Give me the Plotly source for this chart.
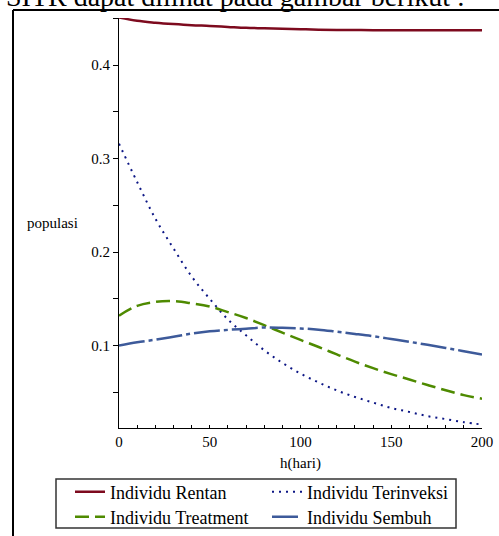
import plotly.graph_objects as go

hari = [0, 10, 20, 30, 40, 50, 60, 70, 80, 90, 100, 110, 120, 130, 140, 150, 160, 170, 180, 190, 200]
rentan = [0.451, 0.4475, 0.4455, 0.444, 0.4428, 0.442, 0.441, 0.4400, 0.4395, 0.439, 0.4385,
          0.438, 0.4377, 0.4376, 0.4375, 0.4375, 0.4374, 0.4374, 0.4374, 0.4374, 0.4374]
terinveksi = [0.316, 0.275, 0.236, 0.204, 0.174, 0.150, 0.128, 0.111, 0.095, 0.0815, 0.070,
              0.0605, 0.052, 0.045, 0.039, 0.0332, 0.029, 0.0245, 0.0213, 0.018, 0.0155]
treatment = [0.132, 0.1425, 0.1467, 0.1475, 0.1452, 0.1418, 0.1358, 0.1295, 0.1218, 0.1138, 0.106,
             0.0985, 0.0905, 0.0828, 0.0758, 0.0695, 0.0637, 0.0578, 0.0522, 0.047, 0.0431]
sembuh = [0.100, 0.1035, 0.1063, 0.1095, 0.1128, 0.1152, 0.1168, 0.118, 0.1193, 0.119, 0.1183,
          0.117, 0.1148, 0.1125, 0.110, 0.107, 0.104, 0.1008, 0.0975, 0.094, 0.0904]

names = ["Individu Rentan", "Individu Terinveksi", "Individu Treatment", "Individu Sembuh"]
x_tick_vals = [0, 50, 100, 150, 200]
y_tick_vals = [0.1, 0.2, 0.3, 0.4]

serif = "Liberation Serif"
W, H = 499, 536
L, R, T, B = 119, 17, 18, 108
pw, ph = W - L - R, H - T - B


def px(xp):
    return (xp - L) / pw


def py(yp):
    return (H - B - yp) / ph


fig = go.Figure()
fig.add_trace(go.Scatter(x=hari, y=rentan, name=names[0], mode="lines", line_shape="spline",
                         legend="legend", line=dict(color="#7d0a1e", width=2.5)))
fig.add_trace(go.Scatter(x=hari, y=terinveksi, name=names[1], mode="lines", line_shape="spline",
                         legend="legend", line=dict(color="#0c1685", width=2, dash="2px,5px")))
fig.add_trace(go.Scatter(x=hari, y=treatment, name=names[2], mode="lines", line_shape="spline",
                         legend="legend2", line=dict(color="#4e8a00", width=2.5, dash="14px,6px")))
fig.add_trace(go.Scatter(x=hari, y=sembuh, name=names[3], mode="lines", line_shape="spline",
                         legend="legend2", line=dict(color="#3d5a9a", width=2.5, dash="26px,4px,4px,4px")))

leg_common = dict(orientation="h", xanchor="left", yanchor="middle",
                  bgcolor="rgba(0,0,0,0)", borderwidth=0, entrywidth=152, entrywidthmode="pixels",
                  font=dict(family=serif, size=18, color="black"), itemwidth=30)

fig.update_layout(
    width=W, height=H,
    margin=dict(l=L, r=R, t=T, b=B, autoexpand=False),
    paper_bgcolor="white", plot_bgcolor="white",
    font=dict(family=serif, size=15, color="black"),
    showlegend=True,
    legend=dict(x=px(70), y=py(492), **leg_common),
    legend2=dict(x=px(70), y=py(517), **leg_common),
    xaxis=dict(range=[0, 200], tickvals=x_tick_vals, ticks="inside", ticklen=3,
               tickcolor="black", showline=True, linecolor="black", linewidth=1,
               showgrid=False, zeroline=False,
               minor=dict(dtick=10, tick0=0, ticks="inside", ticklen=3, tickcolor="black"),
               title=dict(text="h(hari)", font=dict(family=serif, size=15), standoff=8),
               tickfont=dict(family=serif, size=15)),
    yaxis=dict(range=[0.0118, 0.4505], tickvals=y_tick_vals, ticks="outside", ticklen=5,
               tickcolor="black", showline=True, linecolor="black", linewidth=1,
               showgrid=False, zeroline=False,
               minor=dict(dtick=0.05, tick0=0, ticks="outside", ticklen=5, tickcolor="black"),
               tickfont=dict(family=serif, size=15)),
)

fig.add_annotation(text="populasi", xref="paper", yref="paper", x=px(52), y=py(223),
                   xanchor="center", yanchor="middle", showarrow=False,
                   font=dict(family=serif, size=15, color="black"))

fig.add_annotation(text="SITR dapat dilihat pada gambar berikut :", xref="paper", yref="paper",
                   x=px(467), y=py(14), xanchor="right", yanchor="bottom",
                   showarrow=False, font=dict(family=serif, size=28, color="black"))

# legend box
fig.add_shape(type="rect", xref="paper", yref="paper",
              x0=px(56), x1=px(456), y0=py(479), y1=py(528),
              line=dict(color="#333333", width=1.5), layer="below")

# outer frame lines
fig.add_shape(type="line", xref="paper", yref="paper",
              x0=px(13), x1=px(13), y0=py(10), y1=py(545),
              line=dict(color="black", width=2))
fig.add_shape(type="line", xref="paper", yref="paper",
              x0=px(13), x1=px(505), y0=py(10), y1=py(10),
              line=dict(color="black", width=2))

fig.write_html("out.html")
